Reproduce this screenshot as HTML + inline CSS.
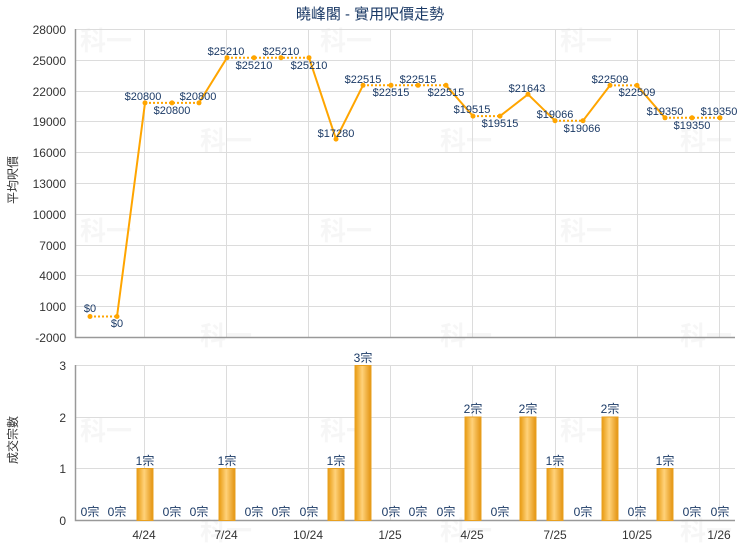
<!DOCTYPE html>
<html><head><meta charset="utf-8"><style>
html,body{margin:0;background:#fff;overflow:hidden;width:740px;height:550px}
svg{display:block;font-family:"Liberation Sans","Noto Sans CJK TC",sans-serif}
</style></head><body>
<svg width="740" height="550" viewBox="0 0 740 550" xmlns="http://www.w3.org/2000/svg">
<defs>
<linearGradient id="bg" x1="0" x2="1" y1="0" y2="0">
<stop offset="0" stop-color="#e89a10"/><stop offset="0.45" stop-color="#ffd27a"/><stop offset="1" stop-color="#e39310"/>
</linearGradient>
</defs>
<text x="370" y="19" text-anchor="middle" font-size="15" fill="#1b3a66">曉峰閣 - 實用呎價走勢</text>
<g font-size="26" font-weight="bold" fill="#000" opacity="0.03">
<text x="80" y="50">科一</text><text x="320" y="50">科一</text><text x="560" y="50">科一</text>
<text x="200" y="150">科一</text><text x="440" y="150">科一</text><text x="680" y="150">科一</text>
<text x="80" y="240">科一</text><text x="320" y="240">科一</text><text x="560" y="240">科一</text>
<text x="200" y="345">科一</text><text x="440" y="345">科一</text><text x="680" y="345">科一</text>
<text x="80" y="440">科一</text><text x="320" y="440">科一</text><text x="560" y="440">科一</text>
<text x="200" y="540">科一</text><text x="440" y="540">科一</text><text x="680" y="540">科一</text>
</g>
<g stroke="#dcdcdc" stroke-width="1">
<line x1="75" x2="735" y1="29.5" y2="29.5"/><line x1="75" x2="735" y1="60.5" y2="60.5"/><line x1="75" x2="735" y1="91.5" y2="91.5"/><line x1="75" x2="735" y1="121.5" y2="121.5"/><line x1="75" x2="735" y1="152.5" y2="152.5"/><line x1="75" x2="735" y1="183.5" y2="183.5"/><line x1="75" x2="735" y1="214.5" y2="214.5"/><line x1="75" x2="735" y1="245.5" y2="245.5"/><line x1="75" x2="735" y1="275.5" y2="275.5"/><line x1="75" x2="735" y1="306.5" y2="306.5"/>
<line x1="75" x2="735" y1="365.5" y2="365.5"/><line x1="75" x2="735" y1="417.5" y2="417.5"/><line x1="75" x2="735" y1="468.5" y2="468.5"/>
<g id="vg"><line x1="144.5" x2="144.5" y1="29" y2="337"/><line x1="226.5" x2="226.5" y1="29" y2="337"/><line x1="308.5" x2="308.5" y1="29" y2="337"/><line x1="390.5" x2="390.5" y1="29" y2="337"/><line x1="472.5" x2="472.5" y1="29" y2="337"/><line x1="555.5" x2="555.5" y1="29" y2="337"/><line x1="637.5" x2="637.5" y1="29" y2="337"/><line x1="719.5" x2="719.5" y1="29" y2="337"/></g>
</g>
<g stroke="#dcdcdc" stroke-width="1">
<line x1="144.5" x2="144.5" y1="365" y2="520"/><line x1="226.5" x2="226.5" y1="365" y2="520"/><line x1="308.5" x2="308.5" y1="365" y2="520"/><line x1="390.5" x2="390.5" y1="365" y2="520"/><line x1="472.5" x2="472.5" y1="365" y2="520"/><line x1="555.5" x2="555.5" y1="365" y2="520"/><line x1="637.5" x2="637.5" y1="365" y2="520"/><line x1="719.5" x2="719.5" y1="365" y2="520"/>
</g>
<g stroke="#999" stroke-width="1.5" fill="none">
<path d="M75.5 29V337.5H735"/><path d="M75.5 365V520.5H735"/>
</g>
<g font-size="12" fill="#333" text-anchor="end">
<text x="66" y="34">28000</text><text x="66" y="65">25000</text><text x="66" y="96">22000</text><text x="66" y="126">19000</text><text x="66" y="157">16000</text><text x="66" y="188">13000</text><text x="66" y="219">10000</text><text x="66" y="250">7000</text><text x="66" y="280">4000</text><text x="66" y="311">1000</text><text x="66" y="342">-2000</text>
<text x="66" y="370">3</text><text x="66" y="422">2</text><text x="66" y="473">1</text><text x="66" y="525">0</text>
</g>
<g font-size="12" fill="#333" text-anchor="middle">
<text x="144" y="539">4/24</text><text x="226" y="539">7/24</text><text x="308" y="539">10/24</text><text x="390" y="539">1/25</text><text x="472" y="539">4/25</text><text x="555" y="539">7/25</text><text x="637" y="539">10/25</text><text x="719" y="539">1/26</text>
</g>
<text transform="translate(17,180) rotate(-90)" font-size="12" fill="#333" text-anchor="middle">平均呎價</text>
<text transform="translate(17,440) rotate(-90)" font-size="12" fill="#333" text-anchor="middle">成交宗數</text>
<g stroke="#ffa500" stroke-width="2" fill="none">
<path d="M117 316.5L145 102.9M199 102.9L227 57.7M309 57.7L336 139.1L363 85.3M446 85.3L473 116.1M500 116.1L528 94.3L555 120.7M583 120.7L610 85.4M637 85.4L665 117.8"/>
</g>
<g stroke="#ffa500" stroke-width="2" fill="none" stroke-dasharray="2,2">
<path d="M90 316.5H117M145 102.9H199M227 57.7H309M363 85.3H446M473 116.1H500M555 120.7H583M610 85.4H637M665 117.8H720"/>
</g>
<g fill="#ffa500">
<circle cx="90" cy="316.5" r="2.5"/><circle cx="117" cy="316.5" r="2.5"/><circle cx="145" cy="102.9" r="2.5"/><circle cx="172" cy="102.9" r="2.5"/><circle cx="199" cy="102.9" r="2.5"/><circle cx="227" cy="57.7" r="2.5"/><circle cx="254" cy="57.7" r="2.5"/><circle cx="281" cy="57.7" r="2.5"/><circle cx="309" cy="57.7" r="2.5"/><circle cx="336" cy="139.1" r="2.5"/><circle cx="363" cy="85.3" r="2.5"/><circle cx="391" cy="85.3" r="2.5"/><circle cx="418" cy="85.3" r="2.5"/><circle cx="446" cy="85.3" r="2.5"/><circle cx="473" cy="116.1" r="2.5"/><circle cx="500" cy="116.1" r="2.5"/><circle cx="528" cy="94.3" r="2.5"/><circle cx="555" cy="120.7" r="2.5"/><circle cx="583" cy="120.7" r="2.5"/><circle cx="610" cy="85.4" r="2.5"/><circle cx="637" cy="85.4" r="2.5"/><circle cx="665" cy="117.8" r="2.5"/><circle cx="692" cy="117.8" r="2.5"/><circle cx="720" cy="117.8" r="2.5"/>
</g>
<g font-size="11" fill="#1b3a66" text-anchor="middle">
<text x="90" y="312">$0</text><text x="117" y="327">$0</text><text x="143" y="100">$20800</text><text x="172" y="114">$20800</text><text x="198" y="100">$20800</text><text x="226" y="55">$25210</text><text x="254" y="69">$25210</text><text x="281" y="55">$25210</text><text x="309" y="69">$25210</text><text x="336" y="137">$17280</text><text x="363" y="83">$22515</text><text x="391" y="96">$22515</text><text x="418" y="83">$22515</text><text x="446" y="96">$22515</text><text x="472" y="113">$19515</text><text x="500" y="127">$19515</text><text x="527" y="92">$21643</text><text x="555" y="118">$19066</text><text x="582" y="132">$19066</text><text x="610" y="83">$22509</text><text x="637" y="96">$22509</text><text x="665" y="115">$19350</text><text x="692" y="129">$19350</text><text x="719" y="115">$19350</text>
</g>
<g fill="url(#bg)" stroke="#e8a020" stroke-width="1">
<rect x="137" y="468.5" width="16" height="52"/><rect x="219" y="468.5" width="16" height="52"/><rect x="328" y="468.5" width="16" height="52"/><rect x="355" y="365.5" width="16" height="155"/><rect x="465" y="417" width="16" height="103.5"/><rect x="520" y="417" width="16" height="103.5"/><rect x="547" y="468.5" width="16" height="52"/><rect x="602" y="417" width="16" height="103.5"/><rect x="657" y="468.5" width="16" height="52"/>
</g>
<g font-size="12" fill="#1b3a66" text-anchor="middle">
<text x="145" y="465">1宗</text><text x="227" y="465">1宗</text><text x="336" y="465">1宗</text><text x="363" y="362">3宗</text><text x="473" y="413">2宗</text><text x="528" y="413">2宗</text><text x="555" y="465">1宗</text><text x="610" y="413">2宗</text><text x="665" y="465">1宗</text>
<text x="90" y="516">0宗</text><text x="117" y="516">0宗</text><text x="172" y="516">0宗</text><text x="199" y="516">0宗</text><text x="254" y="516">0宗</text><text x="281" y="516">0宗</text><text x="309" y="516">0宗</text><text x="391" y="516">0宗</text><text x="418" y="516">0宗</text><text x="446" y="516">0宗</text><text x="500" y="516">0宗</text><text x="583" y="516">0宗</text><text x="637" y="516">0宗</text><text x="692" y="516">0宗</text><text x="720" y="516">0宗</text>
</g>
</svg>
</body></html>
